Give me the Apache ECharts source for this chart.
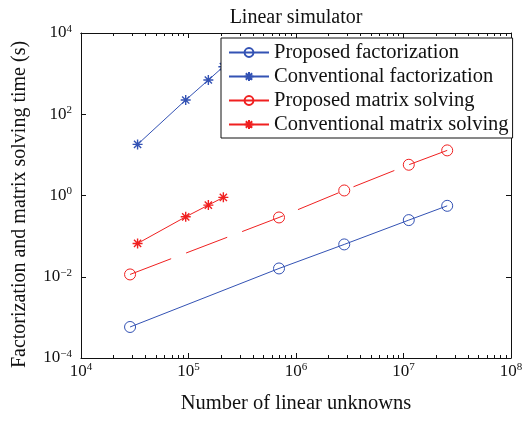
<!DOCTYPE html>
<html>
<head>
<meta charset="utf-8">
<script src="https://cdn.jsdelivr.net/npm/echarts@6/dist/echarts.min.js"></script>
<style>
  html, body { margin: 0; padding: 0; background: #fff; }
  #chart { width: 529px; height: 422px; }
</style>
</head>
<body>
<div id="chart"></div>
<script>
// values
var propN = [2.86e4, 6.95e5, 2.81e6, 1.12e7, 2.55e7];
var propFactT = [5.8e-4, 0.016, 0.0625, 0.248, 0.557];
var propSolveT = [0.0114, 0.288, 1.33, 5.71, 12.9];
var convN = [3.36e4, 9.42e4, 1.53e5, 2.11e5];
var convFactT = [18.1, 224, 696, 1480];
var convSolveT = [0.066, 0.299, 0.58, 0.90];

var xMajorTicks = [1e4, 1e5, 1e6, 1e7, 1e8];
var xMinorTicks = [];
[1e4, 1e5, 1e6, 1e7].forEach(function (d) {
    for (var k = 2; k <= 9; k++) xMinorTicks.push(k * d);
});
var yTicks = [1e-4, 1e-2, 1, 1e2, 1e4];

var FONT = "'Liberation Serif', 'Times New Roman', serif";
var BLUE = '#3352b4';
var RED = '#f02020';
var STAR = 'path://M0,-5L0,5M-5,0L5,0M-3.6,-3.6L3.6,3.6M-3.6,3.6L3.6,-3.6';

function pairs(xs, ys) {
    return xs.map(function (x, i) { return [x, ys[i]]; });
}

function powLabel(v) {
    var e = Math.round(Math.log10(v));
    return '{b|10}{s|' + (e < 0 ? '\u2212' + (-e) : e) + '}';
}

var richTick = {
    b: { fontFamily: FONT, fontSize: 17, color: '#111', lineHeight: 19 },
    s: { fontFamily: FONT, fontSize: 11, color: '#111', verticalAlign: 'top', lineHeight: 11 }
};

function xAx(pos, ticks, len, main) {
    return {
        type: 'log', logBase: 10, min: 1e4, max: 1e8, position: pos,
        name: main ? 'Number of linear unknowns' : '',
        nameLocation: 'middle', nameGap: 35,
        nameTextStyle: { fontFamily: FONT, fontSize: 20.5, color: '#111' },
        axisLine: { show: main || pos === 'top', onZero: false, lineStyle: { color: '#111', width: 1 } },
        axisTick: { show: true, inside: true, length: len, customValues: ticks, lineStyle: { color: '#111' } },
        axisLabel: {
            show: main && pos === 'bottom', margin: 4, customValues: xMajorTicks,
            formatter: powLabel, rich: richTick
        },
        splitLine: { show: false }
    };
}

function yAx(pos, main) {
    return {
        type: 'log', logBase: 10, min: 1e-4, max: 1e4, position: pos,
        name: main ? 'Factorization and matrix solving time (s)' : '',
        nameLocation: 'middle', nameGap: 51,
        nameTextStyle: { fontFamily: FONT, fontSize: 20, color: '#111', padding: [0, 18, 0, 0] },
        axisLine: { show: true, onZero: false, lineStyle: { color: '#111', width: 1 } },
        axisTick: { show: true, inside: true, length: 5, customValues: yTicks, lineStyle: { color: '#111' } },
        axisLabel: {
            show: main, margin: 9, customValues: yTicks,
            formatter: powLabel, rich: richTick
        },
        splitLine: { show: false }
    };
}

function lineSeries(name, data, color, symbol, dashed) {
    var hollow = symbol === 'circle';
    return {
        name: name, type: 'line', data: data,
        symbol: symbol, symbolSize: hollow ? 11 : 10,
        showSymbol: true,
        lineStyle: { color: color, width: 1, type: dashed ? [44, 16] : 'solid' },
        itemStyle: {
            color: hollow ? 'rgba(0,0,0,0)' : color,
            borderColor: color, borderWidth: hollow ? 1 : 1.4
        },
        emphasis: { disabled: true },
        animation: false
    };
}

var chart = echarts.init(document.getElementById('chart'), null, { renderer: 'canvas' });

var option = {
    backgroundColor: '#fff',
    animation: false,
    title: {
        text: 'Linear simulator', left: 291, top: 3, textAlign: 'center',
        textStyle: { fontFamily: FONT, fontSize: 20, fontWeight: 'normal', color: '#111' }
    },
    grid: { left: 81, right: 18, top: 33, bottom: 64, containLabel: false },
    legend: {
        orient: 'vertical', left: 221, top: 38,
        padding: [4, 4, 3, 7], itemGap: 3, itemWidth: 40, itemHeight: 11, itemTextGap: 7,
        backgroundColor: '#fff', borderColor: '#111', borderWidth: 1,
        textStyle: { fontFamily: FONT, fontSize: 20.5, color: '#111', lineHeight: 20 },
        data: ['Proposed factorization', 'Conventional factorization',
               'Proposed matrix solving', 'Conventional matrix solving']
    },
    xAxis: [
        xAx('bottom', xMajorTicks, 5, true),
        xAx('bottom', xMinorTicks, 3, false),
        xAx('top', xMajorTicks, 5, false),
        xAx('top', xMinorTicks, 3, false)
    ],
    yAxis: [
        yAx('left', true),
        yAx('right', false)
    ],
    series: [
        lineSeries('Proposed factorization', pairs(propN, propFactT), BLUE, 'circle', false),
        lineSeries('Conventional factorization', pairs(convN, convFactT), BLUE, STAR, false),
        lineSeries('Proposed matrix solving', pairs(propN, propSolveT), RED, 'circle', true),
        lineSeries('Conventional matrix solving', pairs(convN, convSolveT), RED, STAR, false)
    ]
};

chart.setOption(option);
</script>
</body>
</html>
